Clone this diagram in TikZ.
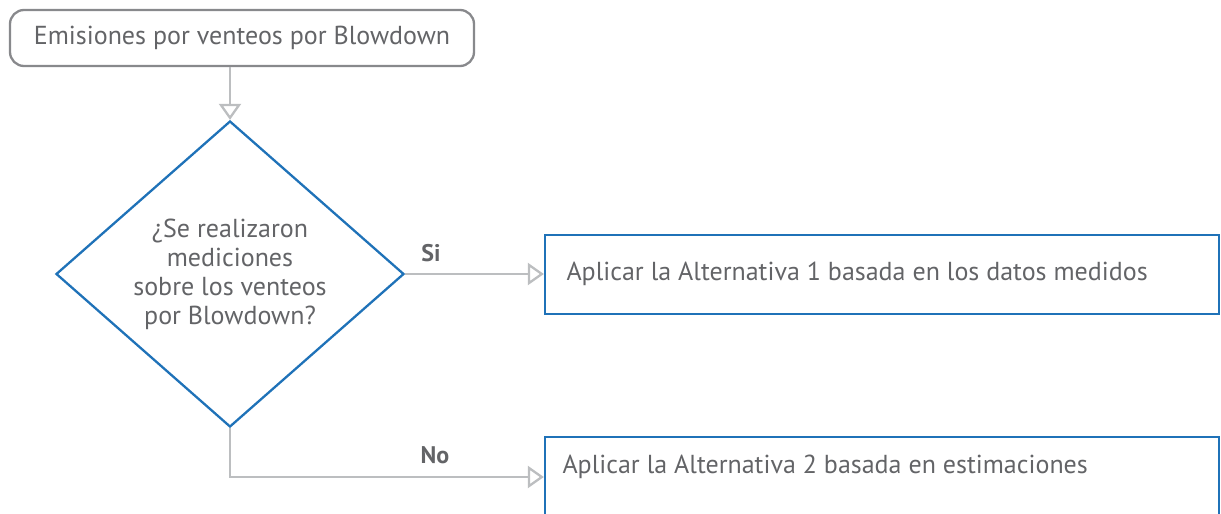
\documentclass[tikz,border=0pt]{standalone}
\usepackage{fontspec}
\setmainfont{PT Sans}
\usetikzlibrary{shapes.geometric,arrows.meta}
\definecolor{txtgray}{HTML}{636467}
\definecolor{linegray}{HTML}{BCBEC0}
\definecolor{edgegray}{HTML}{88898C}
\definecolor{flowblue}{HTML}{1F72B8}
\tikzset{
  every node/.style={font=\fontsize{26}{29}\selectfont, text=txtgray},
  startbox/.style={draw=edgegray, line width=2.3pt, rounded corners=14pt,
    minimum width=464pt, minimum height=56pt, inner sep=0pt},
  decision/.style={diamond, draw=flowblue, line width=2.3pt, inner sep=0pt,
    minimum width=348pt, minimum height=306pt, align=center},
  actionbox/.style={draw=flowblue, line width=2.3pt, minimum width=674pt,
    inner sep=0pt},
  flow/.style={draw=linegray, line width=2.3pt,
    -{Triangle[open, length=16pt, width=22pt, line width=2.3pt]}},
  branch/.style={font=\fontsize{24}{29}\selectfont\bfseries, text=txtgray}
}
\begin{document}
\begin{tikzpicture}[x=1pt, y=-1pt]
  \useasboundingbox (0,0) rectangle (1221,514);
  \clip (0,0) rectangle (1221,514);

  % start terminal
  \node[startbox] (start) at (242,38) {Emisiones por venteos por Blowdown};

  % decision
  \node[decision] (dec) at (230,274)
    {¿Se realizaron\\mediciones\\sobre los venteos\\por Blowdown?};

  % outcome boxes
  \node[actionbox, minimum height=79pt] (alt1) at (882,274.5) {};
  \node[anchor=west] (alt1txt) at (563,274) {Aplicar la Alternativa 1 basada en los datos medidos};
  \node[actionbox, minimum height=100pt] (alt2) at (882,487) {};
  \node[anchor=west] (alt2txt) at (559,467) {Aplicar la Alternativa 2 basada en estimaciones};

  % connectors
  \draw[flow] (start.south -| dec.north) -- (dec.north);
  \draw[flow] (dec.east) -- (alt1.west |- dec.east);
  \draw[flow] (dec.south) -- (dec.south |- 0,477) -- (alt2.west |- 0,477);

  % branch labels
  \node[branch] (si) at (431,253) {Si};
  \node[branch] (no) at (435,455) {No};
\end{tikzpicture}
\end{document}
